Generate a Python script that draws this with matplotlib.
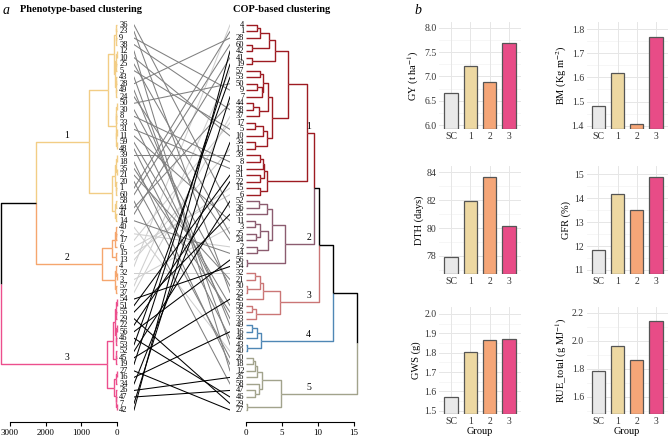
import matplotlib
matplotlib.use("Agg")
import matplotlib.pyplot as plt

plt.rcParams["font.family"] = ["Liberation Serif", "DejaVu Serif"]
plt.rcParams["mathtext.fontset"] = "stix"

# phenotype-based tree, nodes are [height, child, child]
pheno_g1 = [785,
            [250,
             [85,
              [40, [20, 36, 23], [25, 9, 38]],
              [45, [25, [10, 12, 10], [15, 25, 5]], [30, [15, 43, 28], [15, 49, 24]]]],
             [40, [20, [10, 50, 30], [15, 8, 33]], [20, [10, 31, 11], [10, 59, 48]]]],
            [150,
             [60, [20, [10, 39, 18], [10, 35, 21]], [30, 20, [15, 1, 60]]],
             [50, [20, 58, 44], [25, 41, 14]]]]
pheno_g2 = [420,
            [140, [60, [30, 40, [15, 2, 17]], 6], [20, 15, 13]],
            [60, [25, 4, [10, 32, 3]], [20, 57, 37]]]
pheno_g3 = [290,
            [100,
             [50, [25, [10, 54, 51], [15, 55, 29]], [30, [10, 22, 56], [15, 46, 53]]],
             [40, [15, 52, 45], 19]],
            [80, [30, [10, 27, 16], 34], [40, 26, [20, 47, [10, 7, 42]]]]]
pheno_tree = [3250, [2270, pheno_g1, pheno_g2], pheno_g3]
pheno_colors = ["#F2CD85", "#F5A66E", "#EC4F8D"]
line_greys = ["#808080", "#CFCFCF", "#000000"]

# COP-based tree
cop_g1 = [8.5,
          [5.8,
           [4.0, [3.2, [2.0, [1.5, 4, 1], 28], [0.9, 60, 42]], [0.9, 41, 19]],
           [3.6,
            [3.1, [2.4, [2.0, 57, 53], [2.2, [1.5, 50, 9], 7]], [1.8, [1.0, 44, 38], 37]],
            [2.9, [2.3, [1.2, 17, 5], 10], [1.2, 34, 13]]]],
          [2.9, [2.5, [2.3, [1.9, 39, 8], 31], [2.0, 51, 22]], [2.0, 15, 6]]]
cop_g2 = [5.4,
          [3.6, [2.9, [1.8, 52, 36], 55],
           [3.0, [1.9, [1.2, 11, 3], [1.4, 25, 24]], [1.5, 2, 14]]],
          [0.15, 56, 54]]
cop_g3 = [4.7, [2.3, [1.9, [1.2, 32, 21], [0.15, 30, 23]], 45], [1.4, [0.9, 59, 35], 33]]
cop_g4 = [2.1, [1.5, [0.9, 49, 16], 48], [0.15, 43, 40]]
cop_g5 = [4.9, [2.2, [1.5, [1.2, [1.0, 20, 18], 12], 26], [1.8, 58, [1.3, 47, 46]]],
          [0.15, 29, 27]]
cop_tree = [15.4, [12.1, [10.1, [9.4, cop_g1, cop_g2], cop_g3], cop_g4], cop_g5]
cop_colors = ["#9E1B22", "#8C5C70", "#CB7676", "#4F87B5", "#A2A38C"]

# bar panels
groups = ["SC", "1", "2", "3"]
gy = [6.65, 7.21, 6.88, 7.68]
bm = [1.483, 1.618, 1.407, 1.767]
dth = [77.9, 81.96, 83.64, 80.18]
gfr = [11.84, 14.16, 13.51, 14.87]
gws = [1.569, 1.803, 1.867, 1.869]
rue = [1.78, 1.965, 1.86, 2.14]
bar_colors = ["#E9E9E9", "#EDD8A2", "#F5A678", "#E84C87"]

W, H = 669, 438
fig = plt.figure(figsize=(W / 100, H / 100), dpi=100)


def px_axes(x0, y0, x1, y1):
    return fig.add_axes([x0 / W, 1 - y1 / H, (x1 - x0) / W, (y1 - y0) / H])


def tree_leaves(node):
    if isinstance(node, list):
        return tree_leaves(node[1]) + tree_leaves(node[2])
    return [node]


def draw_tree(ax, tree, clusters, colors):
    order = tree_leaves(tree)
    leaf_col = {}
    for cl, c in zip(clusters, colors):
        for leaf in tree_leaves(cl):
            leaf_col[leaf] = c
    marks = {}

    def walk(node):
        if not isinstance(node, list):
            return order.index(node), 0.0, {leaf_col[node]}
        h = node[0]
        kids = [walk(node[1]), walk(node[2])]
        y = (kids[0][0] + kids[1][0]) / 2
        for yc, hc, cols in kids:
            c = next(iter(cols)) if len(cols) == 1 else "black"
            ax.plot([h, h, hc], [y, yc, yc], color=c, lw=1.0,
                    solid_capstyle="butt", clip_on=False)
        for i, cl in enumerate(clusters):
            if node is cl:
                marks[i] = y
        return y, h, kids[0][2] | kids[1][2]

    walk(tree)
    return order, marks


def dendro_axis(ax, ticks):
    for s in ["top", "left", "right"]:
        ax.spines[s].set_visible(False)
    ax.spines["bottom"].set_position(("outward", 6))
    ax.spines["bottom"].set_bounds(min(ticks), max(ticks))
    ax.spines["bottom"].set_linewidth(0.8)
    ax.set_xticks(ticks)
    ax.tick_params(axis="x", length=3, width=0.8, labelsize=6.5, pad=2)
    ax.set_yticks([])
    ax.set_ylim(59.5, -0.5)
    ax.patch.set_alpha(0)


y_top, y_bot = 21.7, 413.3
clusters_l = [pheno_g1, pheno_g2, pheno_g3]
clusters_r = [cop_g1, cop_g2, cop_g3, cop_g4, cop_g5]

# left dendrogram
axl = px_axes(0, y_top, 117, y_bot)
order_l, marks_l = draw_tree(axl, pheno_tree, clusters_l, pheno_colors)
axl.set_xlim(3280, 0)
dendro_axis(axl, [0, 1000, 2000, 3000])
for i, leaf in enumerate(order_l):
    axl.text(-60, i, str(leaf), ha="left", va="center", fontsize=6)
for i in range(3):
    axl.text(1400, marks_l[i] - 0.3, str(i + 1), ha="center", va="bottom", fontsize=7)

# right dendrogram
axr = px_axes(246, y_top, 362, y_bot)
order_r, marks_r = draw_tree(axr, cop_tree, clusters_r, cop_colors)
axr.set_xlim(0, 16.1)
dendro_axis(axr, [0, 5, 10, 15])
for i, leaf in enumerate(order_r):
    axr.text(-0.25, i, str(leaf), ha="right", va="center", fontsize=6)
for i in range(5):
    axr.text(8.7, marks_r[i] - 0.3, str(i + 1), ha="center", va="bottom", fontsize=7)

# connecting lines
axc = px_axes(134, y_top, 230, y_bot)
axc.set_xlim(0, 1)
axc.set_ylim(59.5, -0.5)
axc.axis("off")
pos_r = {leaf: i for i, leaf in enumerate(order_r)}
for g in [1, 0, 2]:
    for leaf in tree_leaves(clusters_l[g]):
        axc.plot([0, 1], [order_l.index(leaf), pos_r[leaf]], color=line_greys[g], lw=0.75)

fig.text(3 / W, 1 - 10 / H, "a", fontsize=10, style="italic", va="center")
fig.text(20 / W, 1 - 10 / H, "Phenotype-based clustering", fontsize=7.5,
         fontweight="bold", va="center")
fig.text(233 / W, 1 - 10 / H, "COP-based clustering", fontsize=7.5,
         fontweight="bold", va="center")
fig.text(414 / W, 1 - 10 / H, "b", fontsize=10, style="italic", va="center")


def bar_panel(box, vals, ylim, ticks, fmt, ylabel, show_x):
    ax = px_axes(*box)
    ax.bar(range(4), [v - ylim[0] for v in vals], bottom=ylim[0], width=0.7,
           color=bar_colors, edgecolor="#555555", linewidth=0.9, zorder=3)
    ax.set_xlim(-0.6, 3.6)
    ax.set_ylim(*ylim)
    ax.set_yticks(ticks)
    ax.set_yticklabels([fmt.format(t) for t in ticks])
    step = ticks[1] - ticks[0]
    minors = [t + step / 2 for t in [ticks[0] - step] + ticks]
    for m in minors:
        ax.axhline(m, color="#F3F3F3", lw=0.5, zorder=0)
    for t in ticks:
        ax.axhline(t, color="#E6E6E6", lw=0.7, zorder=1)
    for xv in range(4):
        ax.axvline(xv, color="#E6E6E6", lw=0.7, zorder=1)
    ax.set_xticks(range(4))
    ax.set_xticklabels(groups)
    for s in ax.spines.values():
        s.set_visible(False)
    ax.tick_params(length=0, labelsize=7, pad=2, labelcolor="#333333")
    ax.set_ylabel(ylabel, fontsize=7.5, labelpad=2)
    if show_x:
        ax.set_xlabel("Group", fontsize=7.5, labelpad=1)
    return ax


c1 = (439.3, 520.7)
c2 = (586.8, 667.5)
r1, r2, r3 = (22, 129), (166, 274), (307, 414)
bar_panel((c1[0], r1[0], c1[1], r1[1]), gy, (5.92, 8.12), [6.0, 6.5, 7.0, 7.5, 8.0],
          "{:.1f}", r"GY (t ha$^{-1}$)", False)
bar_panel((c2[0], r1[0], c2[1], r1[1]), bm, (1.386, 1.83), [1.4, 1.5, 1.6, 1.7, 1.8],
          "{:.1f}", r"BM (Kg m$^{-2}$)", False)
bar_panel((c1[0], r2[0], c1[1], r2[1]), dth, (76.7, 84.45), [78, 80, 82, 84],
          "{:.0f}", "DTH (days)", False)
bar_panel((c2[0], r2[0], c2[1], r2[1]), gfr, (10.83, 15.35), [11, 12, 13, 14, 15],
          "{:.0f}", "GFR (%)", False)
bar_panel((c1[0], r3[0], c1[1], r3[1]), gws, (1.483, 2.036), [1.5, 1.6, 1.7, 1.8, 1.9, 2.0],
          "{:.1f}", "GWS (g)", True)
bar_panel((c2[0], r3[0], c2[1], r3[1]), rue, (1.476, 2.24), [1.6, 1.8, 2.0, 2.2],
          "{:.1f}", r"RUE_total (g MJ$^{-1}$)", True)

fig.savefig("out.png", dpi=100)
